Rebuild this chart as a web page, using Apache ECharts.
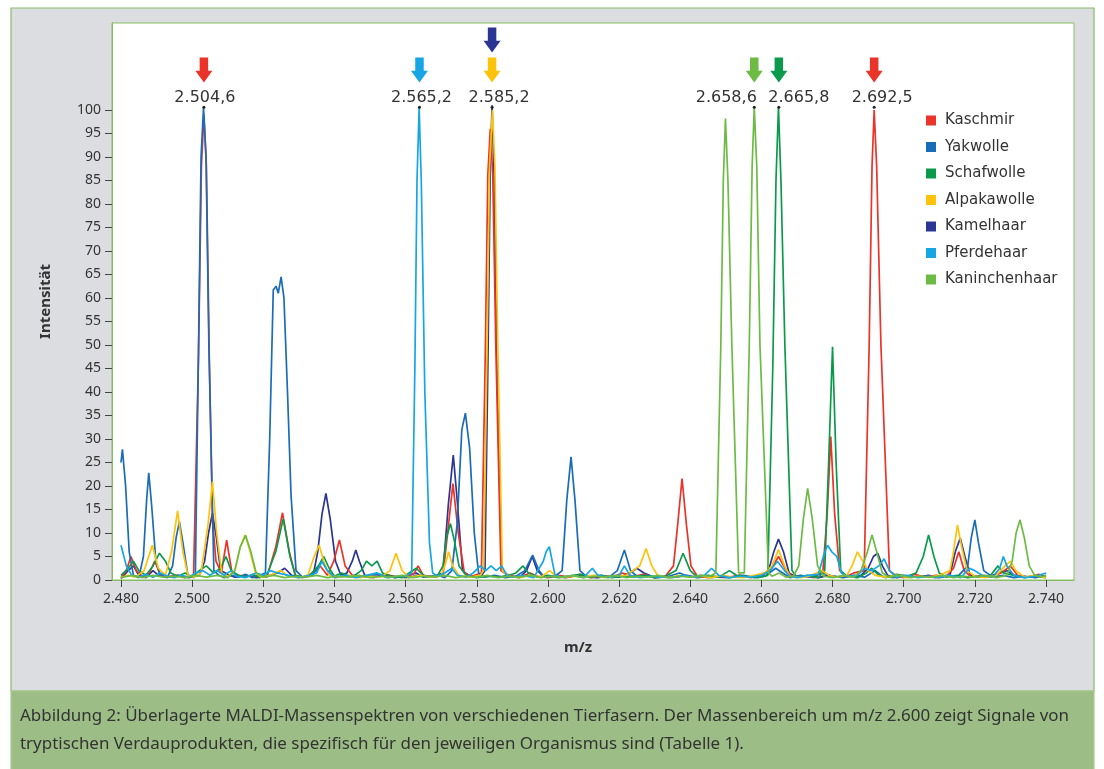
<!DOCTYPE html>
<html><head><meta charset="utf-8">
<script src="https://cdn.jsdelivr.net/npm/echarts@6/dist/echarts.min.js"></script>
<style>html,body{margin:0;padding:0;background:#fff;}#c{width:1104px;height:769px;}</style>
</head><body><div id="c"></div>
<script>
// ---- data ----
const speciesNames = ['Kaschmir','Yakwolle','Schafwolle','Alpakawolle','Kamelhaar','Pferdehaar','Kaninchenhaar'];
const xTicks = [2480,2500,2520,2540,2560,2580,2600,2620,2640,2660,2680,2700,2720,2740];
const yTicks = [0,5,10,15,20,25,30,35,40,45,50,55,60,65,70,75,80,85,90,95,100];

const kaschmir = [[2480,0.5],[2481.5,2],[2482.8,5],[2484.3,2],[2486,0.8],[2488,1.5],[2489.5,4],[2491,1.2],[2493,0.6],[2496,1],[2498,0.5],[2500.4,1],[2501.8,48],[2502.6,88],[2503.3,99],[2504,88],[2504.8,48],[2505.7,13],[2506.7,4],[2508.2,1.5],[2509.7,8.5],[2511.2,1.5],[2513,1],[2516,0.8],[2519,1],[2521,0.6],[2523.5,7],[2525.4,14.3],[2527.3,6],[2529,1],[2531,0.5],[2534,1.5],[2536,3],[2538,1],[2539.8,4],[2541.4,8.5],[2543,3],[2545,1],[2548,0.8],[2551,0.5],[2554,1.2],[2557,0.8],[2560,0.5],[2562.5,1.5],[2563.5,3],[2565,1],[2568,0.6],[2570.5,1],[2571.8,10],[2573.3,20.5],[2574.8,10],[2576.5,1.5],[2578.5,0.8],[2581.3,1.5],[2582.4,48],[2583.1,86],[2583.8,96],[2584.5,86],[2585.4,48],[2586.8,2],[2589,1],[2592,0.6],[2595,1.5],[2597,0.8],[2600,0.5],[2603,1],[2606,0.6],[2609,1.2],[2612,0.5],[2615,1],[2618,0.6],[2621,1.5],[2624,0.8],[2627,1.2],[2630,0.5],[2633,0.8],[2635.3,3],[2636.5,12],[2637.7,21.6],[2638.9,12],[2640.2,3],[2642,0.8],[2645,0.5],[2648,0.8],[2651,0.6],[2654,1],[2657,0.5],[2660,1.2],[2662.5,2],[2664.8,5],[2667,2],[2669,0.6],[2672,0.8],[2675,0.5],[2677.3,2],[2678.5,14],[2679.5,30.5],[2680.6,14],[2682,2],[2684,0.8],[2686,1.5],[2688.9,2],[2690.3,50],[2691.1,88],[2691.7,100],[2692.4,88],[2693.6,50],[2696,2],[2698,0.8],[2700,0.5],[2703,1.2],[2706,0.6],[2709,1],[2712,0.8],[2714,2.5],[2715.5,6],[2717,2],[2719,0.6],[2722,1],[2725,0.6],[2728,1.8],[2730,3],[2732,1],[2735,0.6],[2738,1.2],[2740,0.8]];

const yakwolle = [[2480,25],[2480.4,27.8],[2481.3,20],[2482.3,6],[2483.5,1],[2485,0.5],[2486.3,5],[2487.2,17],[2487.8,22.8],[2488.6,16],[2489.8,4],[2491,1],[2493,0.5],[2494.5,3],[2495.5,9],[2496.4,12.4],[2497.4,8],[2498.8,1],[2500.5,0.5],[2500.9,1],[2501.8,50],[2502.5,90],[2503.2,100.5],[2503.9,90],[2504.7,50],[2506.1,2],[2507.5,1],[2509,0.5],[2511,1],[2513,0.6],[2515,1.2],[2517,0.5],[2519,1],[2520.6,1.5],[2521.8,30],[2522.8,61.7],[2523.6,62.5],[2524.2,61],[2525,64.5],[2525.8,60],[2526.8,40],[2527.8,18],[2529.2,2],[2531,0.6],[2533,1],[2535,2],[2536.5,4],[2538,2],[2540,0.5],[2543,0.8],[2546,1],[2549,0.6],[2552,1.2],[2555,0.5],[2558,0.8],[2561,0.5],[2563,1],[2566,0.6],[2569,1],[2571,0.5],[2573,2],[2574.5,12],[2575.8,32],[2576.8,35.5],[2578,28],[2579.3,10],[2580.5,1.5],[2582,0.6],[2585,1],[2588,0.5],[2591,0.8],[2593.5,2],[2595.7,5.3],[2597.5,2],[2599,0.6],[2602,0.8],[2604,2],[2605.3,17],[2606.5,26.2],[2607.6,17],[2609,2],[2611,0.6],[2614,1],[2617,0.5],[2619.5,2],[2621.5,6.4],[2623.2,2],[2625,0.8],[2628,1],[2631,0.5],[2634,0.8],[2637,1.5],[2640,0.6],[2643,1],[2646,0.5],[2649,0.8],[2652,0.6],[2655,1],[2658,0.5],[2661,0.8],[2664,2.5],[2666,1.5],[2668,0.5],[2671,1],[2674,0.6],[2677,1.5],[2680,0.8],[2683,0.5],[2686,1],[2689,0.6],[2692,2],[2694,0.8],[2697,0.5],[2700,1],[2703,0.6],[2706,0.8],[2709,0.5],[2712,1],[2715,0.6],[2718,3],[2719,9],[2720,12.8],[2721,8],[2722.5,2],[2725,0.6],[2728,1],[2731,0.5],[2734,0.8],[2737,0.5],[2740,1]];

const schafwolle = [[2480,1],[2482,2.5],[2483.5,4],[2485,2],[2487,1],[2489,3],[2490.8,5.7],[2492.5,4],[2494,1.5],[2496,0.8],[2498,1.5],[2500,0.6],[2502,2],[2504,3],[2506,1.5],[2508,2.5],[2509.5,5],[2511,2],[2513,1],[2515,0.6],[2517,1.2],[2519,0.5],[2521,1],[2523.5,6],[2525.6,13],[2527.5,5],[2529,1],[2531,0.6],[2533,1],[2535.5,3],[2537,5],[2538.5,2.5],[2540,0.8],[2542,1.5],[2545,0.6],[2547.5,2],[2549,4],[2550.5,3],[2552,4],[2553.5,1.5],[2556,0.8],[2559,0.5],[2561,1.5],[2563,2.5],[2565,1],[2567,0.6],[2569,1],[2570.5,3],[2571.5,9],[2572.6,12],[2573.8,8],[2575,3],[2577,1],[2580,0.5],[2583,0.8],[2586,0.6],[2589,1],[2591,1.5],[2593,3],[2594.5,1.5],[2597,0.6],[2600,1],[2603,0.5],[2606,0.8],[2609,1.2],[2612,0.6],[2615,1],[2618,0.5],[2621,0.8],[2624,0.6],[2627,1],[2630,0.5],[2633,0.8],[2636,2],[2638,5.7],[2640,2],[2642,0.6],[2645,1],[2648,0.6],[2651,2],[2653,1],[2656,0.8],[2659,0.5],[2661.8,1],[2663.2,45],[2664.1,85],[2664.8,100.5],[2665.5,85],[2666.6,50],[2668.6,2],[2670,0.6],[2673,1],[2676,0.5],[2677.8,2],[2678.9,25],[2680,49.6],[2681,25],[2682.3,2],[2684,0.8],[2687,0.5],[2689.5,1.5],[2691,2.5],[2693,1],[2695,0.5],[2698,1.2],[2701,0.8],[2703.5,1.5],[2705.5,5],[2707,9.6],[2708.5,5],[2710,1.5],[2712,0.6],[2715,1],[2718,0.5],[2721,0.8],[2724,0.6],[2726.5,3],[2728,1.5],[2731,1],[2734,0.5],[2737,1],[2740,0.6]];

const alpakawolle = [[2480,0.5],[2482,1],[2484,0.6],[2486.5,2],[2488.8,7.4],[2490.5,2.5],[2492.5,1],[2494.2,6],[2495.9,14.7],[2497.4,6],[2498.8,1],[2500.5,0.6],[2502.5,1.5],[2504.5,12],[2505.7,20.9],[2506.9,10],[2508.3,1.5],[2510,0.8],[2512,2],[2513.5,7],[2514.9,9.6],[2516.3,6],[2517.8,1.5],[2519.5,0.6],[2522,1],[2525,2],[2527,0.8],[2530,0.5],[2532.5,1],[2534.3,5],[2535.7,7.4],[2537,4],[2538.5,1],[2541,0.6],[2544,1],[2547,0.5],[2550,0.8],[2553,0.6],[2555.6,2],[2557.3,5.7],[2559,2],[2561,0.5],[2564,1],[2567,0.6],[2570,1],[2571,3],[2572.1,6],[2573.2,3],[2575,1],[2578,0.6],[2581,1],[2581.9,2],[2582.9,50],[2583.6,88],[2584.4,100],[2585.1,88],[2585.9,50],[2587.2,2],[2589,0.8],[2592,0.5],[2595,1],[2598,0.6],[2600.5,2],[2602,1],[2604,0.5],[2607,0.8],[2610,0.6],[2613,1],[2616,0.5],[2619,0.8],[2622,1],[2625.8,3],[2627.6,6.7],[2629.2,3],[2631,0.8],[2634,0.5],[2637,1],[2640,0.6],[2643,0.8],[2646,0.5],[2649,1],[2652,0.6],[2655,0.5],[2658,1],[2661,1.5],[2663,3],[2664.8,6.5],[2666.5,3],[2668,0.8],[2671,0.5],[2674,1],[2677,2],[2679,1],[2681,0.6],[2684,1],[2685.5,3],[2687,6],[2688.5,4],[2690,2],[2692,1],[2695,0.6],[2698,1],[2701,0.5],[2704,0.8],[2707,0.6],[2710,1],[2713,2],[2714,6],[2715.1,11.7],[2716.3,7],[2717.8,2],[2720,0.8],[2723,0.5],[2726,1],[2728.5,3],[2730,4],[2731.5,2],[2734,0.6],[2737,1],[2740,0.5]];

const kamelhaar = [[2480,0.3],[2482,2],[2483.5,3],[2485,1],[2487,0.5],[2489,2],[2490.5,1],[2493,0.6],[2496,1],[2499,0.5],[2502,1],[2503.5,4],[2504.6,10],[2505.7,14.2],[2506.8,9],[2508,2],[2510,1.2],[2512,0.6],[2515,1],[2518,0.5],[2521,0.8],[2524,1.5],[2526,2.5],[2528,1],[2531,0.6],[2534,1],[2535.3,6],[2536.5,14],[2537.6,18.4],[2538.8,13],[2540.3,4],[2541.8,1],[2543.5,1.5],[2545,4],[2546,6.4],[2547,4],[2548.5,1],[2551,0.6],[2554,1],[2557,0.5],[2560,0.8],[2563,1.5],[2565,0.6],[2568,0.8],[2570.5,1.5],[2572,16],[2573.4,26.6],[2574.6,16],[2576,2],[2578,0.8],[2581,0.6],[2582.3,2],[2583.2,50],[2583.8,88],[2584.3,101],[2584.9,85],[2585.7,45],[2587,2],[2589,0.8],[2592,0.5],[2594,2],[2595.6,5],[2597,2],[2599,0.6],[2602,0.8],[2605,0.5],[2608,1],[2611,0.6],[2614,0.5],[2617,0.8],[2620,0.6],[2623,1.5],[2625,2.5],[2627,1.5],[2630,0.5],[2633,0.8],[2636,0.6],[2639,1],[2642,0.5],[2645,0.8],[2648,0.6],[2651,0.5],[2654,1],[2657,0.6],[2660,0.8],[2662,2],[2663.5,6],[2664.8,8.7],[2666.2,6],[2667.8,1.5],[2670,0.6],[2673,0.8],[2676,0.5],[2679,1],[2682,0.6],[2685,0.8],[2688,1],[2690,2.5],[2691.5,5],[2692.7,5.7],[2694,3],[2695.5,1],[2698,0.5],[2701,0.8],[2704,0.6],[2707,1],[2710,0.5],[2713,1],[2714.5,6],[2715.9,8.9],[2717.2,5],[2718.7,1],[2721,0.6],[2724,0.8],[2727,1.5],[2729,2],[2731,1],[2734,0.6],[2737,0.8],[2740,0.5]];

const pferdehaar = [[2480,7.4],[2480.5,7],[2481.5,3],[2483,1],[2485,0.6],[2487,1.2],[2489,0.6],[2491,1.5],[2493,0.8],[2495,0.5],[2497,1],[2499,0.6],[2501,1.5],[2503,2],[2505,1],[2507,2],[2509,1],[2511,2],[2512.5,0.8],[2515,0.5],[2518,1.5],[2520,1],[2522,2],[2524,1.5],[2527,1],[2530,0.5],[2533,1],[2535,1.5],[2536.5,4],[2538,2],[2540,0.6],[2543,1],[2546,0.5],[2549,1],[2552,1.5],[2555,0.6],[2558,0.8],[2560.5,1],[2561.7,1.5],[2562.6,45],[2563.2,85],[2563.8,100.5],[2564.4,85],[2565.4,40],[2566.7,8],[2567.6,1.5],[2569,0.8],[2571,1.5],[2573,2.5],[2574.5,1],[2577,0.6],[2579,1.5],[2581,3],[2582.5,2],[2584,3],[2585.5,2],[2587,3],[2588.5,1],[2590,0.6],[2593,1],[2596,0.5],[2598.7,4],[2599.5,6],[2600.4,7.1],[2601.2,4],[2602,1],[2604,0.6],[2607,1],[2610,0.5],[2612.5,2.5],[2614,1],[2617,0.6],[2620,1],[2621.5,3],[2623,1],[2626,0.5],[2629,0.8],[2632,0.6],[2635,0.5],[2638,1],[2641,0.6],[2644,1],[2646,2.5],[2648,1],[2651,0.5],[2654,0.8],[2657,0.6],[2660,1],[2662.5,2],[2664.5,4],[2666.5,2],[2668,0.8],[2670,0.5],[2673,1],[2676,1.2],[2677.6,5.5],[2678.6,7.4],[2679.8,6],[2681.2,5],[2682.5,1.5],[2684,0.8],[2687,1],[2689,2.5],[2691,2],[2693,3],[2694.5,4.5],[2696,2],[2698,0.6],[2701,1],[2704,0.5],[2707,0.8],[2710,0.6],[2713,1],[2716,0.5],[2718.5,2.5],[2720,2],[2722,1],[2725,0.6],[2727,2.5],[2728,5],[2729,3],[2731,1],[2734,0.5],[2737,0.8],[2740,1.5]];

const kaninchenhaar = [[2480,0.5],[2483,1],[2486,0.5],[2489,1],[2492,0.6],[2495,0.8],[2498,0.5],[2501,1],[2504,0.6],[2507,1],[2510,0.5],[2512,2],[2513.5,7],[2515,9.5],[2516.5,6],[2518,1.5],[2520,0.6],[2523,1],[2526,0.5],[2529,0.8],[2532,0.6],[2535,1],[2538,0.5],[2541,0.8],[2544,0.6],[2547,1],[2550,0.5],[2553,0.8],[2556,0.6],[2559,1],[2562,0.5],[2565,0.8],[2568,0.6],[2571,1],[2574,0.5],[2577,0.8],[2580,0.6],[2583,1],[2586,0.5],[2589,0.8],[2592,0.6],[2595,1],[2598,0.5],[2601,0.8],[2604,0.6],[2607,1],[2610,0.5],[2613,0.8],[2616,0.6],[2619,1],[2622,0.5],[2625,0.8],[2628,0.6],[2631,1],[2634,0.5],[2637,0.8],[2640,0.6],[2643,1],[2645.5,0.8],[2647.2,1.5],[2648.6,50],[2649.3,85],[2649.9,98.2],[2650.6,85],[2651.7,50],[2653.6,1.5],[2655.2,1.5],[2656.6,50],[2657.4,88],[2658,100.5],[2658.7,88],[2659.6,50],[2662,1.5],[2663,0.8],[2665,1.5],[2667,0.6],[2669,0.8],[2670.5,3],[2671.8,13],[2673,19.5],[2674.3,13],[2675.8,3],[2677.5,0.8],[2680,0.5],[2683,1],[2686,0.6],[2688,2],[2689.8,6],[2691.1,9.6],[2692.4,6],[2694,1.5],[2696,0.6],[2699,1],[2702,0.5],[2705,0.8],[2708,0.6],[2711,1],[2714,0.5],[2717,0.8],[2720,0.6],[2723,1],[2726,0.5],[2729,1],[2730.5,4],[2731.6,10],[2732.7,12.8],[2733.9,9],[2735.3,3],[2736.8,1],[2738.5,0.6],[2740,1]];

// annotated peaks: where the peak top sits, the value printed, the species whose arrow marks it
const markPeakMz   = [2503.3, 2563.9, 2584.3, 2584.3, 2658.0, 2664.9, 2691.7];
const markPeakText = [2504.6, 2565.2, 2585.2, 2585.2, 2658.6, 2665.8, 2692.5];
const markSpecies  = ['Kaschmir','Pferdehaar','Alpakawolle','Kamelhaar','Kaninchenhaar','Schafwolle','Kaschmir'];

const caption1 = 'Abbildung 2: Überlagerte MALDI-Massenspektren von verschiedenen Tierfasern. Der Massenbereich um m/z 2.600 zeigt Signale von';
const caption2 = 'tryptischen Verdauprodukten, die spezifisch für den jeweiligen Organismus sind (Tabelle 1).';

// ---- styles ----
const colors = {
  Kaschmir:'#ea3329', Yakwolle:'#1b6cb7', Schafwolle:'#0b9a4c', Alpakawolle:'#fdc30c',
  Kamelhaar:'#2b3593', Pferdehaar:'#16a6e3', Kaninchenhaar:'#6cbb44'
};
const drawOrder = { Kamelhaar: 0, Kaschmir: 1, Yakwolle: 2, Schafwolle: 3, Alpakawolle: 4, Pferdehaar: 5, Kaninchenhaar: 6 };
const labelDx = [1, 2, 7, -28, 20, 8];   // horizontal nudge (px) of each printed peak value
const seriesData = [kaschmir, yakwolle, schafwolle, alpakawolle, kamelhaar, pferdehaar, kaninchenhaar];
const GREEN = '#86bd62';
const TXT = '#333333';
const FONT = '"Noto Sans", "DejaVu Sans", sans-serif';
const FONT2 = '"DejaVu Sans", sans-serif';

function deNum(v, dec) {
  const s = v.toFixed(dec);
  const [i, f] = s.split('.');
  const ii = i.replace(/\B(?=(\d{3})+(?!\d))/g, '.');
  return f ? ii + ',' + f : ii;
}

const lineSeries = speciesNames.map((n, i) => ({
  name: n, type: 'line', data: seriesData[i], symbol: 'none', smooth: false,
  lineStyle: { width: 1.7, color: colors[n] }, itemStyle: { color: colors[n] }, z: 2 + drawOrder[n] * 0.01
}));

// arrows
const arrowData = [];
const seen = {};
markPeakMz.forEach((mz, i) => {
  const k = seen[mz] || 0; seen[mz] = k + 1;
  arrowData.push({ value: [mz, 108.5 + k * 6.4], itemStyle: { color: colors[markSpecies[i]], opacity: 1 } });
});
const labelData = [];
const seenL = {};
markPeakMz.forEach((mz, i) => {
  if (seenL[mz]) return; seenL[mz] = 1;
  const j = labelData.length;
  labelData.push({ value: [mz, 100.6], txt: deNum(markPeakText[i], 1), label: { offset: [labelDx[j], 0] } });
});

const chart = echarts.init(document.getElementById('c'), null, { renderer: 'canvas' });
chart.setOption({
  animation: false,
  backgroundColor: '#ffffff',
  graphic: [
    { type: 'rect', z: -10, shape: { x: 11, y: 8, width: 1083, height: 683 }, style: { fill: '#dcdde0', stroke: GREEN, lineWidth: 1.2 } },
    { type: 'rect', z: -10, shape: { x: 11, y: 691, width: 1083, height: 80 }, style: { fill: '#9cbd85', stroke: '#a9cc8e', lineWidth: 1.2 } },
    { type: 'text', z: 10, left: 20, top: 708, style: { text: caption1, fill: TXT, font: '16.95px ' + FONT } },
    { type: 'text', z: 10, left: 20, top: 736, style: { text: caption2, fill: TXT, font: '16.95px ' + FONT } }
  ],
  grid: { left: 112, right: 30, top: 23, bottom: 189, show: true, backgroundColor: '#ffffff', borderColor: GREEN, borderWidth: 1 },
  legend: {
    data: speciesNames, orient: 'vertical', left: 921, top: 108, itemGap: 11.5,
    icon: 'rect', itemWidth: 10, itemHeight: 10,
    textStyle: { fontFamily: FONT2, fontSize: 15, color: TXT, padding: [0, 0, 0, 4] }
  },
  xAxis: {
    type: 'value', min: 2477.47, max: 2747.87,
    name: 'm/z', nameLocation: 'middle', nameGap: 60,
    nameTextStyle: { fontFamily: FONT, fontSize: 15, fontWeight: 'bold', color: TXT, padding: [0, 30, 0, 0] },
    axisLine: { show: true, lineStyle: { color: GREEN, width: 1 } },
    axisTick: { show: true, customValues: xTicks, length: 7, lineStyle: { color: '#444' } },
    axisLabel: { customValues: xTicks, formatter: v => deNum(v, 0), fontFamily: FONT, fontSize: 14, color: TXT, margin: 12 },
    splitLine: { show: false }
  },
  yAxis: {
    type: 'value', min: 0, max: 118.5,
    name: 'Intensität', nameLocation: 'middle', nameGap: 59, nameRotate: 90,
    nameTextStyle: { fontFamily: FONT, fontSize: 15, fontWeight: 'bold', color: TXT, padding: [0, 0, 0, 0] },
    axisLine: { show: true, lineStyle: { color: GREEN, width: 1 } },
    axisTick: { show: true, customValues: yTicks, length: 7, lineStyle: { color: '#444' } },
    axisLabel: { customValues: yTicks, fontFamily: FONT, fontSize: 14, color: TXT, margin: 11 },
    splitLine: { show: false }
  },
  series: lineSeries.concat([
    {
      name: 'arrows', type: 'scatter', data: arrowData, z: 5,
      symbol: 'path://M3,0 L9,0 L9,8 L12,8 L6,15 L0,8 L3,8 Z', symbolSize: [17, 25], silent: true
    },
    {
      name: 'labels', type: 'scatter', data: labelData, z: 6, symbolSize: 3, silent: true,
      itemStyle: { color: '#222', opacity: 1 },
      label: { show: true, position: 'top', distance: 0, formatter: p => p.data.txt, fontFamily: FONT2, fontSize: 16, color: TXT }
    }
  ])
});
</script>
</body></html>
